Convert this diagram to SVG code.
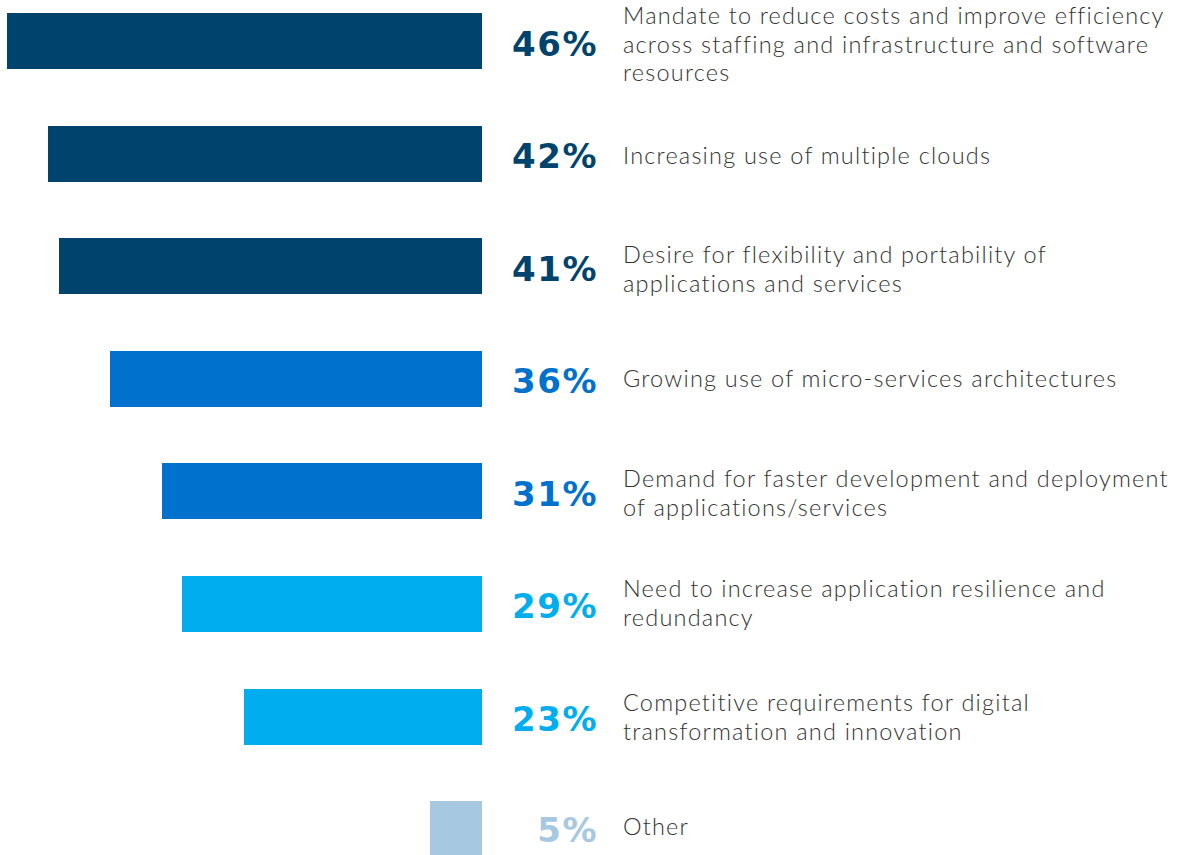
<svg xmlns="http://www.w3.org/2000/svg" width="1186" height="855" viewBox="0 0 1186 855">
<style>
.pct{font-family:"DejaVu Sans","Open Sans",sans-serif;font-weight:700;font-size:34px;letter-spacing:1.5px;text-anchor:end}
.lbl{font-family:"Lato","Open Sans",sans-serif;font-weight:300;font-size:23.5px;letter-spacing:1.2px;fill:#333333}
.c1{fill:#00446E}.c2{fill:#0072CE}.c3{fill:#00AEEF}.c4{fill:#A6C8E0}
</style>
<rect width="1186" height="855" fill="#ffffff"/>
<g id="row1"><rect class="c1" x="7" y="13" width="475" height="56"/><text class="pct c1" x="598" y="56">46%</text><text class="lbl" x="623" y="24">Mandate to reduce costs and improve efficiency</text><text class="lbl" x="623" y="53">across staffing and infrastructure and software</text><text class="lbl" x="623" y="81">resources</text></g>
<g id="row2"><rect class="c1" x="48" y="126" width="434" height="56"/><text class="pct c1" x="598" y="168">42%</text><text class="lbl" x="623" y="164">Increasing use of multiple clouds</text></g>
<g id="row3"><rect class="c1" x="59" y="238" width="423" height="56"/><text class="pct c1" x="598" y="281">41%</text><text class="lbl" x="623" y="263">Desire for flexibility and portability of</text><text class="lbl" x="623" y="292">applications and services</text></g>
<g id="row4"><rect class="c2" x="110" y="351" width="372" height="56"/><text class="pct c2" x="598" y="393">36%</text><text class="lbl" x="623" y="387">Growing use of micro-services architectures</text></g>
<g id="row5"><rect class="c2" x="162" y="463" width="320" height="56"/><text class="pct c2" x="598" y="506">31%</text><text class="lbl" x="623" y="487">Demand for faster development and deployment</text><text class="lbl" x="623" y="516">of applications/services</text></g>
<g id="row6"><rect class="c3" x="182" y="576" width="300" height="56"/><text class="pct c3" x="598" y="618">29%</text><text class="lbl" x="623" y="597">Need to increase application resilience and</text><text class="lbl" x="623" y="626">redundancy</text></g>
<g id="row7"><rect class="c3" x="244" y="689" width="238" height="56"/><text class="pct c3" x="598" y="731">23%</text><text class="lbl" x="623" y="711">Competitive requirements for digital</text><text class="lbl" x="623" y="740">transformation and innovation</text></g>
<g id="row8"><rect class="c4" x="430" y="801" width="52" height="54"/><text class="pct c4" x="598" y="842">5%</text><text class="lbl" x="623" y="835">Other</text></g>
<g id="connectors"/>
</svg>
